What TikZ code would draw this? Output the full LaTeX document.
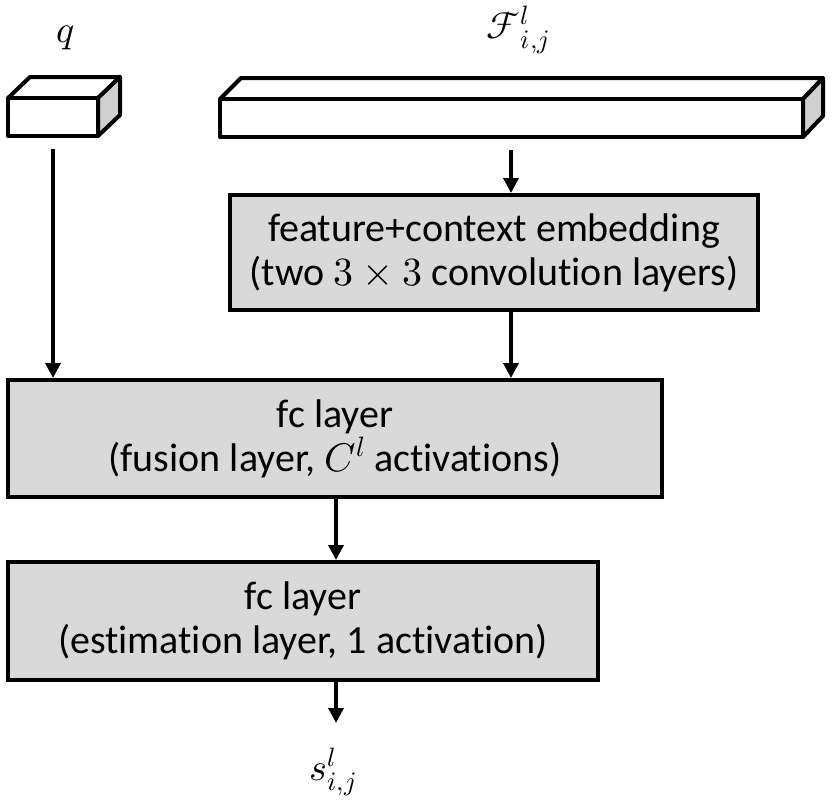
\documentclass[tikz,border=0pt]{standalone}
\usepackage{fontspec}
\usepackage{unicode-math}
\setmainfont[Ligatures=NoCommon]{Carlito}
\setmathfont{Latin Modern Math}
\usetikzlibrary{arrows.meta}
\definecolor{boxgrey}{HTML}{D9D9D9}
\definecolor{sidegrey}{HTML}{D0D0D0}
\begin{document}
\begin{tikzpicture}[x=1pt,y=-1pt,
  layerbox/.style={draw=black,line width=4pt,fill=boxgrey,align=center,
    font=\fontsize{40}{44}\selectfont,inner sep=0pt},
  flow/.style={line width=3.5pt,-{Triangle[length=15pt,width=15pt]}},
  face/.style={draw=black,line width=4pt,line join=round},
  lbl/.style={font=\fontsize{38}{44}\selectfont,inner sep=0pt}]
\useasboundingbox (0,0) rectangle (832,809);
% small cuboid q
\filldraw[face,fill=white] (8,98) -- (30,77) -- (120,77) -- (98,98) -- cycle;
\filldraw[face,fill=sidegrey] (98,98) -- (120,77) -- (120,115) -- (98,136) -- cycle;
\filldraw[face,fill=white] (8,98) rectangle (98,136);
\node[minimum width=90pt,minimum height=38pt,inner sep=0pt] (qbox) at (53,117) {};
% big cuboid F
\filldraw[face,fill=white] (220,99) -- (241,78) -- (823,78) -- (803,99) -- cycle;
\filldraw[face,fill=sidegrey] (803,99) -- (823,78) -- (823,116) -- (803,137) -- cycle;
\filldraw[face,fill=white] (220,99) rectangle (803,137);
\node[minimum width=583pt,minimum height=38pt,inner sep=0pt] (fbox) at (511,118) {};
% labels
\node[lbl] (qlbl) at (66,38) {$q$};
\node[lbl] (flbl) at (518,30) {$\mathcal{F}^{l}_{i,j}$};
\node[lbl] (slbl) at (333,772) {$s^{l}_{i,j}$};
% layer boxes
\node[layerbox,minimum width=528pt,minimum height=115pt] (feat) at (494,252.5)
  {feature+context embedding\\(two $3\times3$ convolution layers)};
\node[layerbox,minimum width=654pt,minimum height=117pt] (fusion) at (335,438.5)
  {fc layer\\(fusion layer, $C^{l}$ activations)};
\node[layerbox,minimum width=590pt,minimum height=118pt] (est) at (303,621)
  {fc layer\\(estimation layer, 1 activation)};
% connectors
\draw[flow,shorten <=13pt] (fbox.south) -- (fbox.south |- feat.north);
\draw[flow,shorten <=13pt] (qbox.south) -- (qbox.south |- fusion.north);
\draw[flow] (feat.south -| fbox.south) -- (fusion.north -| fbox.south);
\draw[flow] (fusion.south -| 336,0) -- (est.north -| 336,0);
\coordinate (sout) at (336,723);
\draw[flow] (est.south -| sout) -- (sout);
\end{tikzpicture}
\end{document}
